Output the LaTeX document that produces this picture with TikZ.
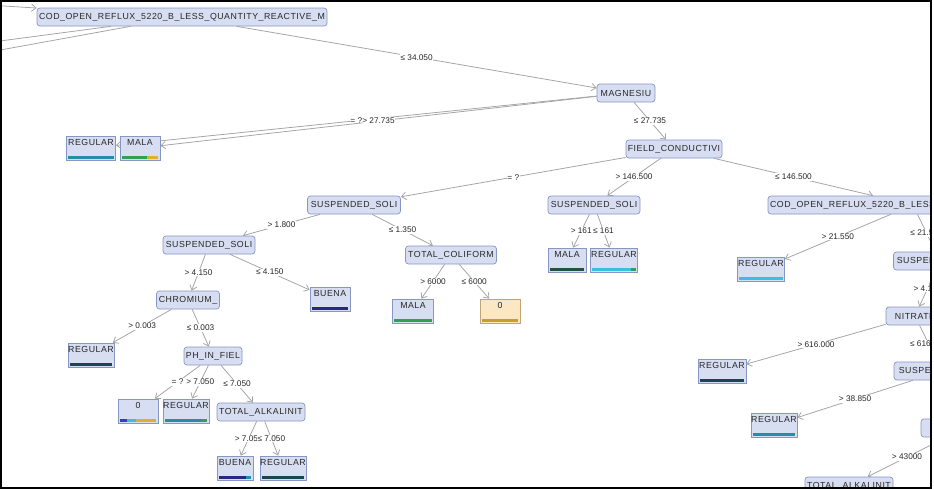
\documentclass[tikz,border=0pt]{standalone}
\usepackage{xcolor}
\usepackage{fontspec}
\newfontfamily\treefont[LetterSpace=6]{Liberation Sans}
\newfontfamily\edgefont{Liberation Sans}
\usetikzlibrary{calc,arrows.meta,backgrounds}
\newdimen\px \px=0.02cm

\definecolor{nodefill}{RGB}{215,222,241}
\definecolor{nodeline}{RGB}{135,150,195}
\definecolor{leaffillo}{RGB}{252,231,197}
\definecolor{leaflineo}{RGB}{195,165,115}
\definecolor{edgegray}{RGB}{165,165,165}
\definecolor{txt}{RGB}{40,40,40}
\definecolor{barteal}{RGB}{38,140,170}
\definecolor{bardark}{RGB}{25,70,80}
\definecolor{bargreen}{RGB}{50,160,80}
\definecolor{baryellow}{RGB}{225,175,40}
\definecolor{barnavy}{RGB}{40,40,130}
\definecolor{barblue}{RGB}{50,60,200}
\definecolor{barcyan}{RGB}{60,190,225}
\definecolor{bargold}{RGB}{200,160,40}
\definecolor{bardkgreen}{RGB}{30,85,60}

\tikzset{
  split/.style={draw=nodeline, fill=nodefill, rounded corners=1.7pt, inner sep=0pt,
    minimum height=18\px, text=txt, font=\treefont\fontsize{5pt}{6pt}\selectfont},
  leaf/.style={draw=nodeline, fill=nodefill, inner sep=0pt, minimum height=24\px,
    text height=3.6pt, text depth=5.9pt, text=txt, font=\treefont\fontsize{5pt}{6pt}\selectfont},
  edge/.style={draw=edgegray, line width=0.45pt, -{Straight Barb[length=2.6pt,width=4.2pt]}},
  lbl/.style={fill=white, inner sep=0.4pt, text=txt, font=\edgefont\fontsize{4.7pt}{5pt}\selectfont},
}

% coloured bar at the foot of a leaf: node, colour, from, to
\newcommand{\leafbar}[4]{%
  \fill[#2] ($($(#1.south west)+(2,-1.5)$)!#3!($(#1.south east)+(-2,-1.5)$)$)
    rectangle ($($(#1.south west)+(2,-4)$)!#4!($(#1.south east)+(-2,-4)$)$);}

\begin{document}
\begin{tikzpicture}[x=0.02cm, y=-0.02cm]
  \useasboundingbox (0,0) rectangle (934,490);
  \begin{scope}
    \clip (1,1) rectangle (931,488);
    % splits
    \node[split, minimum width=290\px] (cod) at (182,17) {COD\_OPEN\_REFLUX\_5220\_B\_LESS\_QUANTITY\_REACTIVE\_M};
    \node[split, minimum width=58\px] (mag) at (626,93) {MAGNESIU};
    \node[split, minimum width=96\px] (field) at (674,149) {FIELD\_CONDUCTIVI};
    \node[split, minimum width=93\px] (susa) at (354,205) {SUSPENDED\_SOLI};
    \node[split, minimum width=92\px] (susb) at (594,205) {SUSPENDED\_SOLI};
    \node[split, minimum width=290\px] (codb) at (913,205) {COD\_OPEN\_REFLUX\_5220\_B\_LESS\_QUANTITY\_REACTIVE\_M};
    \node[split, minimum width=92\px] (susc) at (209,245) {SUSPENDED\_SOLI};
    \node[split, minimum width=91\px] (coli) at (451,255) {TOTAL\_COLIFORM};
    \node[split, minimum width=63\px] (chrom) at (188,300) {CHROMIUM\_};
    \node[split, minimum width=58\px] (ph) at (213,356) {PH\_IN\_FIEL};
    \node[split, minimum width=88\px] (alka) at (261,412) {TOTAL\_ALKALINIT};
    \node[split, minimum width=93\px] (susd) at (940,261) {SUSPENDED\_SOLI};
    \node[split, minimum width=58\px] (nitr) at (915,316) {NITRATE};
    \node[split, minimum width=96\px] (suse) at (942,371) {SUSPENDED\_SOLI};
    \node[split, minimum width=88\px] (hidn) at (965,428) {};
    \node[split, minimum width=88\px] (alkb) at (849,486) {TOTAL\_ALKALINIT};
    % leaves
    \node[leaf, minimum width=49\px] (rega) at (91,148) {REGULAR};
    \node[leaf, minimum width=40\px] (malaa) at (140,148) {MALA};
    \node[leaf, minimum width=40\px] (buenaa) at (330,299) {BUENA};
    \node[leaf, minimum width=46\px] (regb) at (91,355) {REGULAR};
    \node[leaf, minimum width=40\px] (zeroa) at (138,411) {0};
    \node[leaf, minimum width=46\px] (regc) at (186,411) {REGULAR};
    \node[leaf, minimum width=36\px] (buenab) at (235,468) {BUENA};
    \node[leaf, minimum width=46\px] (regd) at (283,468) {REGULAR};
    \node[leaf, minimum width=41\px] (malab) at (413,311) {MALA};
    \node[leaf, minimum width=40\px, fill=leaffillo, draw=leaflineo] (zerob) at (500,311) {0};
    \node[leaf, minimum width=38\px] (malac) at (567,260) {MALA};
    \node[leaf, minimum width=47\px] (rege) at (614,260) {REGULAR};
    \node[leaf, minimum width=47\px] (regf) at (761,269) {REGULAR};
    \node[leaf, minimum width=48\px] (regg) at (722,371) {REGULAR};
    \node[leaf, minimum width=46\px] (regh) at (774,425) {REGULAR};
    % bars
    \leafbar{rega}{barteal}{0}{1}
    \leafbar{malaa}{bargreen}{0}{0.7} \leafbar{malaa}{baryellow}{0.7}{1}
    \leafbar{buenaa}{barnavy}{0}{1}
    \leafbar{regb}{bardark}{0}{1}
    \leafbar{zeroa}{barblue}{0}{0.2} \leafbar{zeroa}{barcyan}{0.2}{0.45} \leafbar{zeroa}{baryellow}{0.45}{1}
    \leafbar{regc}{barteal}{0}{0.85} \leafbar{regc}{bargreen}{0.85}{1}
    \leafbar{buenab}{barnavy}{0}{0.85} \leafbar{buenab}{barteal}{0.85}{1}
    \leafbar{regd}{bardark}{0}{1}
    \leafbar{malab}{bargreen}{0}{1}
    \leafbar{zerob}{bargold}{0}{1}
    \leafbar{malac}{bardkgreen}{0}{1}
    \leafbar{rege}{barcyan}{0}{0.9} \leafbar{rege}{bargreen}{0.9}{1}
    \leafbar{regf}{barcyan}{0}{1}
    \leafbar{regg}{bardark}{0}{1}
    \leafbar{regh}{barteal}{0}{1}
  \end{scope}

  \begin{scope}[on background layer]
    \clip (1,1) rectangle (931,488);
    \coordinate (up) at (-400,-19);   % parent off to the left
    \coordinate (offa) at (-600,120);
    \coordinate (offb) at (-600,159);
    \draw[edge] (up) -- (cod);
    \draw[edge] (cod) -- (offa);
    \draw[edge] (cod) -- (offb);
    \draw[edge] (cod) -- node[lbl] {≤ 34.050} (mag);
    \draw[edge] (mag) -- node[lbl] {= ?} (rega);
    \draw[edge] (mag) -- node[lbl] {> 27.735} (malaa);
    \draw[edge] (mag) -- node[lbl] {≤ 27.735} (field);
    \draw[edge] (field) -- node[lbl] {= ?} (susa);
    \draw[edge] (field) -- node[lbl] {> 146.500} (susb);
    \draw[edge] (field) -- node[lbl] {≤ 146.500} (codb);
    \draw[edge] (susa) -- node[lbl] {> 1.800} (susc);
    \draw[edge] (susa) -- node[lbl] {≤ 1.350} (coli);
    \draw[edge] (susc) -- node[lbl] {> 4.150} (chrom);
    \draw[edge] (susc) -- node[lbl] {≤ 4.150} (buenaa);
    \draw[edge] (chrom) -- node[lbl] {> 0.003} (regb);
    \draw[edge] (chrom) -- node[lbl] {≤ 0.003} (ph);
    \draw[edge] (ph) -- node[lbl] {= ?} (zeroa);
    \draw[edge] (ph) -- node[lbl] {> 7.050} (regc);
    \draw[edge] (ph) -- node[lbl] {≤ 7.050} (alka);
    \draw[edge] (alka) -- node[lbl] {> 7.050} (buenab);
    \draw[edge] (alka) -- node[lbl] {≤ 7.050} (regd);
    \draw[edge] (coli) -- node[lbl] {> 6000} (malab);
    \draw[edge] (coli) -- node[lbl] {≤ 6000} (zerob);
    \draw[edge] (susb) -- node[lbl] {> 161} (malac);
    \draw[edge] (susb) -- node[lbl] {≤ 161} (rege);
    \draw[edge] (codb) -- node[lbl] {> 21.550} (regf);
    \draw[edge] (codb) -- node[lbl] {≤ 21.550} (susd);
    \draw[edge] (susd) -- node[lbl] {> 4.150} (nitr);
    \draw[edge] (nitr) -- node[lbl] {> 616.000} (regg);
    \draw[edge] (nitr) -- node[lbl] {≤ 616.000} (suse);
    \draw[edge] (suse) -- node[lbl] {> 38.850} (regh);
    \draw[edge] (suse) -- (hidn);
    \draw[edge] (hidn) -- node[lbl] {> 43000} (alkb);
  \end{scope}

  \draw[black, line width=0.9pt] (1,1) rectangle (931,488);   % frame
\end{tikzpicture}
\end{document}
